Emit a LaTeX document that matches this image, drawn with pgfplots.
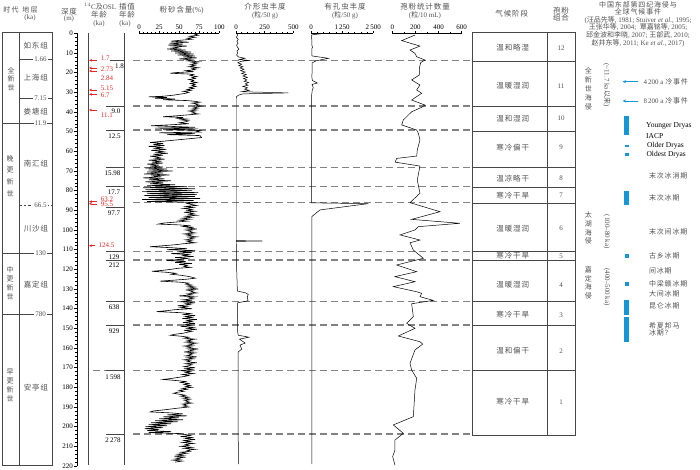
\documentclass[border=0pt]{standalone}
\usepackage{pgfplots}
\pgfplotsset{compat=1.18}
\usepackage{fontspec}
\setmainfont{Liberation Serif}
\newfontfamily\cjk[LetterSpace=12]{Noto Sans CJK SC}
\newfontfamily\cjkn{Noto Sans CJK SC}
\usetikzlibrary{arrows.meta}
\definecolor{ared}{RGB}{232,40,35}
\definecolor{ablue}{RGB}{20,150,215}
\definecolor{dgray}{RGB}{130,130,130}
\definecolor{bgray}{RGB}{70,70,70}
\definecolor{tgray}{RGB}{80,80,80}
\newcommand{\C}[1]{{\cjk #1}}
\newcommand{\fs}{\fontsize{7}{8.5}\selectfont}
\newcommand{\fss}{\fontsize{7.5}{9}\selectfont}
\pgfplotsset{
  colax/.style={scale only axis, height=432.7pt, ymin=0, ymax=220, y dir=reverse,
    hide y axis, axis x line*=top, tick align=outside, major tick length=2.5pt,
    minor tick length=1.3pt, tick style={black, line width=0.5pt},
    axis line style={black, line width=0.6pt},
    xticklabel style={font=\fs, inner sep=1pt},
    /pgf/number format/assume math mode=true, anchor=north west},
  curve/.style={black, line width=0.5pt, no markers, sharp plot},
}
\begin{document}
\begin{tikzpicture}
\begin{scope}[x=1pt, y=-1pt]
% headers
\node[font=\fs, text=tgray] at (11,10) {{\cjkn 时}\,{\cjkn 代}};
\node[font=\fs, text=tgray] at (30,10) {{\cjkn 地}\,{\cjkn 层}};
\node[font=\fs, text=tgray] at (30,18) {(ka)};
\node[font=\fss, text=tgray] at (69,11.7) {\C{深度}};
\node[font=\fs, text=tgray] at (69,18.5) {(m)};
\node[font=\fs, text=tgray] at (100,6.7) {$^{14}$C\C{及}OSL};
\node[font=\fss, text=tgray] at (99,15) {\C{年龄}};
\node[font=\fs, text=tgray] at (99,23.5) {(ka)};
\node[font=\fss, text=tgray] at (127,6.7) {\C{插值}};
\node[font=\fss, text=tgray] at (127,15) {\C{年龄}};
\node[font=\fs, text=tgray] at (125,23.5) {(ka)};
\node[font=\fss, text=tgray] at (181.7,10) {\C{粉砂含量}(\%)};
\node[font=\fss, text=tgray] at (265,7) {\C{介形虫丰度}};
\node[font=\fs, text=tgray] at (265,15.5) {(\C{粒}/50 g)};
\node[font=\fss, text=tgray] at (345,7) {\C{有孔虫丰度}};
\node[font=\fs, text=tgray] at (345,15.5) {(\C{粒}/50 g)};
\node[font=\fss, text=tgray] at (425,7) {\C{孢粉统计数量}};
\node[font=\fs, text=tgray] at (425,15.5) {(\C{粒}/10 mL)};
\node[font=\fss, text=tgray] at (511.7,14) {\C{气候阶段}};
\node[font=\fss, text=tgray] at (561,10.5) {\C{孢粉}};
\node[font=\fss, text=tgray] at (561,18) {\C{组合}};
\node[font=\fs, text=tgray] at (638,5) {\C{中国东部第四纪海侵与}};
\node[font=\fs, text=tgray] at (638,11.8) {\C{全球气候事件}};
\node[font=\fs, text=tgray] at (638,19.8) {({\cjkn 汪品先等}, 1981; Stuiver \textit{et al.}, 1995;};
\node[font=\fs, text=tgray] at (638,27.3) {{\cjkn 王张华等}, 2004;\ \ {\cjkn 覃嘉铭等}, 2005;};
\node[font=\fs, text=tgray] at (638,35) {{\cjkn 邱金波和李晓}, 2007; {\cjkn 王部武}, 2010;};
\node[font=\fs, text=tgray] at (638,42.8) {{\cjkn 赵井东等}, 2011; Ke \textit{et al.}, 2017)};
% left columns
\draw[bgray, line width=0.6pt] (2.7,32.3) -- (2.7,465) -- (52.7,465) -- (52.7,32.3);
\draw[bgray, line width=1.4pt] (2.7,32.3) -- (52.7,32.3);
\draw[bgray, line width=0.6pt] (19.3,32.3) -- (19.3,465);
\draw[bgray, line width=0.6pt] (2.7,123.3) -- (52.7,123.3);
\draw[bgray, line width=0.6pt] (2.7,253.3) -- (52.7,253.3);
\draw[bgray, line width=0.6pt] (2.7,314.3) -- (52.7,314.3);
\draw[bgray, line width=0.6pt] (19.3,59) -- (52.7,59);
\draw[bgray, line width=0.6pt] (19.3,98.3) -- (52.7,98.3);
\draw[bgray, line width=0.6pt, dash pattern=on 2.5pt off 2pt] (19.3,205.7) -- (52.7,205.7);
\foreach \yy/\lab in {59/1.66, 98.3/7.15, 123.3/11.9, 205.7/66.5, 253.3/130, 314.3/780}
  \node[font=\fs, fill=white, inner sep=1pt, text=tgray] at (40.5,\yy) {\lab};
\node[font=\fss, text=tgray] at (35.7,45.7) {\C{如东组}};
\node[font=\fss, text=tgray] at (35.7,77.3) {\C{上海组}};
\node[font=\fss, text=tgray] at (35.7,111.7) {\C{娄塘组}};
\node[font=\fss, text=tgray] at (36,164) {\C{南汇组}};
\node[font=\fss, text=tgray] at (36,229) {\C{川沙组}};
\node[font=\fss, text=tgray] at (36,285) {\C{嘉定组}};
\node[font=\fss, text=tgray] at (36,387.3) {\C{安亭组}};
\node[font=\fontsize{7}{8.6}\selectfont, text=tgray, align=center] at (11,78.9) {\cjkn 全\\\cjkn 新\\\cjkn 世};
\node[font=\fontsize{7}{11.7}\selectfont, text=tgray, align=center] at (10,175.8) {\cjkn 晚\\\cjkn 更\\\cjkn 新\\\cjkn 世};
\node[font=\fontsize{7}{9}\selectfont, text=tgray, align=center] at (10,283) {\cjkn 中\\\cjkn 更\\\cjkn 新\\\cjkn 世};
\node[font=\fontsize{7}{9}\selectfont, text=tgray, align=center] at (10,385.2) {\cjkn 早\\\cjkn 更\\\cjkn 新\\\cjkn 世};
% age columns
\draw[bgray, line width=0.7pt] (88.3,33.3) -- (88.3,465);
\draw[bgray, line width=0.7pt] (124,33.3) -- (124,465);
% red 14C / OSL ages
\foreach \ya/\yl/\lab in {60.3/58/1.7, 68/69.3/2.73, 71/78.3/2.84, 90/88.3/5.15, 94.3/95.3/6.7, 110/115.7/11.1, 201.7/198.8/63.2, 203.8/204.6/95.5}{
  \draw[ared, line width=0.55pt, -{Stealth[length=3pt, width=2.6pt]}] (97,\ya) -- (89,\ya);
  \node[font=\fs, text=ared, anchor=west] at (97.3,\yl) {\lab};
}
\draw[ared, line width=0.55pt, -{Stealth[length=3pt, width=2.6pt]}] (95,245.7) -- (89,245.7);
\node[font=\fs, text=ared, anchor=west] at (95,245.7) {124.5};
% interpolated ages
\draw[bgray, line width=0.9pt] (110,60.7) -- (124,60.7);
\foreach \yy in {106,130,167.3,186.7,207.5,251.7,260,301.7,325,370.5,434}
  \draw[bgray, line width=0.9pt] (106,\yy) -- (124,\yy);
\node[font=\fs] at (119.5,66) {1.8};
\foreach \xx/\yy/\lab in {116/111/9.0, 114.5/136.7/12.5, 112.5/173.3/15.98, 114/192/17.7, 114/213.3/97.7, 114/256.8/129, 114/265.3/212, 114/306.7/638, 114/331/929, 113/376.7/1\,598, 113/440/2\,278}
  \node[font=\fs] at (\xx,\yy) {\lab};
% dashed lines
\foreach \yy in {60.7,106,130,167.3,186.7,202.7,251.7,260,301.7,325,434}
  \draw[dgray, line width=1.1pt, dash pattern=on 7pt off 4pt] (133,\yy) -- (472.7,\yy);
\draw[dgray, line width=1.1pt, dash pattern=on 7pt off 4pt] (93,370.5) -- (106,370.5);
\draw[dgray, line width=1.1pt, dash pattern=on 7pt off 4pt] (133,370.5) -- (472.7,370.5);
% climate boxes
\draw[bgray, line width=0.7pt] (472.7,32.3) rectangle (575,435);
\draw[bgray, line width=0.7pt] (547.7,32.3) -- (547.7,435);
\foreach \yy in {61,106.7,131,167.3,187.3,203.3,251.7,260,301.7,325.7,370.7}
  \draw[bgray, line width=0.7pt] (472.7,\yy) -- (575,\yy);
\foreach \yy/\lab/\nn in {47.7/温和略湿/12, 86/温暖湿润/11, 118.3/温和湿润/10, 147.7/寒冷偏干/9, 178.3/温凉略干/8, 195.7/寒冷干旱/7, 228.3/温暖湿润/6, 256/寒冷干旱/5, 285/温暖湿润/4, 315/寒冷干旱/3, 350.7/温和偏干/2, 401.7/寒冷干旱/1}{
  \node[font=\fss, text=tgray] at (512.7,\yy) {\C{\lab}};
  \node[font=\fs, text=tgray] at (561,\yy) {\nn};
}
% right panel
\node[font=\fontsize{7}{9}\selectfont, text=tgray, align=center] at (588.3,89.2) {\cjkn 全\\\cjkn 新\\\cjkn 世\\\cjkn 海\\\cjkn 侵};
\node[font=\fs, text=tgray, rotate=-90] at (606.7,85) {(\textasciitilde 11.7 ka{\cjkn 以来})};
\node[font=\fontsize{7}{8.7}\selectfont, text=tgray, align=center] at (588.3,228.2) {\cjkn 太\\\cjkn 湖\\\cjkn 海\\\cjkn 侵};
\node[font=\fs, text=tgray, rotate=-90] at (606.7,231.7) {(100–80 ka)};
\node[font=\fontsize{7}{8.6}\selectfont, text=tgray, align=center] at (588.3,282.7) {\cjkn 嘉\\\cjkn 定\\\cjkn 海\\\cjkn 侵};
\node[font=\fs, text=tgray, rotate=-90] at (606.7,287) {(400–500 ka)};
\draw[ablue, line width=0.7pt, -{Stealth[length=3.5pt, width=3pt]}] (638.3,81.7) -- (622.5,81.7);
\draw[ablue, line width=0.7pt, -{Stealth[length=3.5pt, width=3pt]}] (638.3,101) -- (622.5,101);
\node[font=\fs, text=tgray, anchor=west] at (640,81.7) {4\,200 a {\cjk 冷事件}};
\node[font=\fs, text=tgray, anchor=west] at (640,101) {8\,200 a {\cjk 冷事件}};
\fill[ablue] (624.2,116) rectangle (629.3,135);
\fill[ablue] (624.7,145.2) rectangle (629.3,146.8);
\fill[ablue] (624.7,153) rectangle (629.3,156.2);
\fill[ablue] (624.2,190.7) rectangle (629.3,205);
\fill[ablue] (624.7,254.3) rectangle (629.3,257.7);
\fill[ablue] (624.7,282) rectangle (629.3,286);
\fill[ablue] (624.2,300) rectangle (629.3,315);
\fill[ablue] (624.2,316.5) rectangle (629.3,341.7);
\node[font=\fss, anchor=west] at (642.7,126) {Younger Dryas};
\node[font=\fss, anchor=west] at (642.7,136) {IACP};
\node[font=\fss, anchor=west] at (643.5,145.7) {Older Dryas};
\node[font=\fss, anchor=west] at (643,154.3) {Oldest Dryas};
\foreach \yy/\lab in {176/末次冰消期, 197.7/末次冰期, 231.7/末次间冰期, 256/古乡冰期, 270.7/间冰期, 284/中梁赣冰期, 294/大间冰期, 306/昆仑冰期, 325.7/希夏邦马}
  \node[font=\fs, text=tgray, anchor=west] at (645.5,\yy) {\C{\lab}};
\node[font=\fs, text=tgray, anchor=west] at (645.5,333.3) {\C{冰期？}};
\end{scope}
% ---------------- depth ruler ----------------
\begin{axis}[at={(77pt,-33.3pt)}, anchor=north west, scale only axis, width=10pt, height=432.7pt,
  xmin=0, xmax=1, ymin=0, ymax=220, y dir=reverse, hide x axis, axis y line*=left,
  ytick={0,10,...,220}, minor y tick num=4, tick align=outside, major tick length=3pt,
  minor tick length=1.6pt, tick style={black, line width=0.5pt}, axis line style={black, line width=0.7pt},
  yticklabel style={font=\fs, inner sep=1pt}, /pgf/number format/assume math mode=true]
\addplot[draw=none] coordinates {(0,0)};
\end{axis}
% ---------------- silt ----------------
\begin{axis}[colax, at={(139pt,-33.3pt)}, width=80.3pt, xmin=0, xmax=100,
  xtick={0,25,50,75,100}, minor x tick num=4]
\addplot[curve, line width=0.6pt] table[row sep=\\, x=v, y=d] {d v\\
0 75\\0.5 70\\1 74\\1.5 63\\2 70\\2.5 60\\3 66\\3.4 55\\4 40\\4.5 62\\5 38\\5.5 55\\6 36\\6.5 60\\7 42\\7.5 50\\8 35\\8.5 58\\9 40\\9.5 65\\10 45\\10.5 68\\11 48\\11.5 70\\12 55\\12.5 72\\13 50\\13.5 66\\14 60\\14.5 75\\
15 66\\15.5 72\\16 64\\16.5 70\\17 62\\17.5 74\\18 66\\18.5 70\\19 58\\19.5 68\\20 45\\20.3 39\\20.7 62\\21 68\\21.5 64\\22 72\\22.5 66\\23 70\\23.5 62\\24 68\\24.5 65\\25 72\\25.5 64\\26 70\\26.5 66\\27 71\\27.5 63\\28 68\\28.5 60\\29 65\\29.5 55\\30 62\\30.5 58\\31 50\\31.5 42\\
32 30\\32.3 12\\32.6 35\\33 20\\33.4 45\\33.8 30\\34.2 60\\34.6 70\\35 76\\35.5 66\\36 74\\36.5 70\\37 78\\37.5 68\\38 74\\38.5 66\\39 72\\39.5 62\\40 70\\40.5 66\\41 74\\41.5 60\\42 45\\42.4 30\\42.8 55\\43.2 48\\43.6 60\\44 52\\44.5 62\\45 58\\45.5 50\\46 62\\46.5 40\\47 15\\47.4 45\\47.8 70\\48.2 20\\48.6 74\\49 30\\49.4 76\\49.8 72\\50.2 76\\50.6 25\\51 70\\51.5 35\\52 76\\53 78\\55.5 14\\
56 30\\56.5 18\\57 32\\57.5 12\\58 28\\58.5 20\\59 34\\59.5 15\\60 30\\60.5 22\\61 36\\61.5 18\\62 30\\62.5 14\\63 26\\63.5 20\\64 32\\64.5 12\\65 28\\65.5 16\\66 30\\66.5 10\\67 25\\67.5 14\\
68 30\\68.5 8\\69 35\\69.5 12\\70 42\\70.5 10\\71 30\\71.5 6\\72 38\\72.5 15\\73 28\\73.5 5\\74 32\\74.5 12\\75 40\\75.5 8\\76 30\\76.5 14\\77 45\\77.5 10\\
78 60\\78.5 5\\79 70\\79.5 8\\80 66\\80.5 4\\81 74\\81.5 10\\82 72\\82.5 6\\83 70\\83.5 12\\84 76\\84.5 4\\85 68\\85.5 10\\86 74\\86.5 60\\
87 65\\87.5 72\\88 58\\88.5 68\\89 55\\89.5 66\\90 60\\90.5 70\\91 56\\91.5 68\\92 62\\92.5 72\\93 58\\93.5 66\\94 54\\94.5 64\\95 50\\95.5 60\\96 45\\96.5 30\\97 24\\97.4 50\\97.8 62\\98.2 55\\98.6 68\\99 60\\99.5 72\\100 58\\100.5 66\\101 62\\101.5 70\\102 56\\102.5 66\\103 60\\103.5 72\\104 62\\104.5 68\\105 58\\105.5 66\\106 60\\106.5 70\\107 55\\107.5 45\\
108 30\\108.5 14\\109 40\\109.5 60\\110 35\\110.5 70\\111 50\\111.5 66\\112 40\\112.5 62\\113 55\\113.5 68\\114 45\\114.5 60\\115 50\\
115.5 35\\116 58\\116.5 45\\117 66\\117.5 50\\118 60\\118.5 56\\119 64\\119.5 48\\120 40\\120.5 30\\121 16\\121.5 34\\122 46\\122.5 40\\123 52\\123.5 60\\124 66\\124.5 70\\125 60\\125.5 44\\126 26\\126.5 50\\127 62\\127.5 58\\128 66\\
128.5 60\\129 70\\129.5 62\\130 74\\130.5 58\\131 68\\131.5 64\\132 72\\132.5 60\\133 66\\133.5 50\\134 70\\134.5 62\\135 68\\
135.5 55\\136 66\\136.5 52\\137 70\\137.5 58\\138 64\\138.5 48\\139 60\\139.5 52\\140 66\\140.5 45\\141 35\\141.5 22\\142 50\\142.5 64\\143 56\\143.5 70\\144 58\\144.5 66\\145 54\\145.5 72\\146 60\\146.5 66\\147 55\\147.5 70\\148 58\\148.5 64\\149 52\\149.5 68\\150 60\\150.5 72\\151 56\\151.5 66\\152 60\\
152.5 55\\153 45\\153.5 39\\154 52\\154.5 62\\155 56\\155.5 70\\156 60\\156.5 66\\157 58\\157.5 72\\158 62\\158.5 68\\159 56\\159.5 66\\160 60\\160.5 74\\161 62\\161.5 68\\162 56\\162.5 70\\163 62\\163.5 66\\164 58\\164.5 72\\165 60\\165.5 68\\166 56\\166.5 64\\167 60\\167.5 72\\168 58\\168.5 66\\169 62\\
169.5 56\\170 70\\170.5 58\\171 66\\171.5 52\\172 64\\172.5 58\\173 68\\173.5 54\\174 62\\174.5 56\\175 48\\175.5 40\\176 30\\176.5 45\\177 58\\177.5 52\\178 62\\
178.5 56\\179 64\\179.5 58\\180 66\\180.5 54\\181 60\\181.5 50\\182 56\\182.5 48\\183 43\\183.5 50\\184 58\\184.5 52\\185 62\\185.5 55\\186 64\\186.5 56\\187 62\\187.5 58\\188 66\\188.5 54\\189 60\\189.5 55\\190 62\\190.5 50\\
191 40\\191.5 30\\192 18\\192.5 14\\193 40\\193.5 55\\194 35\\194.5 60\\195 30\\195.5 50\\196 25\\196.5 55\\197 20\\197.5 48\\198 15\\198.5 40\\199 12\\199.5 35\\200 8\\200.5 30\\201 7\\201.5 25\\202 10\\202.5 40\\203 12\\203.5 50\\
204 58\\204.5 64\\205 52\\205.5 66\\206 58\\206.5 70\\207 56\\207.5 64\\208 54\\208.5 68\\209 58\\209.5 62\\210 52\\210.5 66\\211 56\\211.5 70\\212 60\\212.5 64\\213 52\\213.5 60\\214 48\\214.5 56\\215 44\\215.5 58\\216 46\\216.5 52\\217 42\\217.5 54\\218 45\\
};
\end{axis}
% ---------------- ostracods ----------------
\begin{axis}[colax, at={(236pt,-33.3pt)}, width=57.3pt, xmin=0, xmax=500,
  xtick={0,250,500}, minor x tick num=4]
\addplot[curve] table[row sep=\\, x=v, y=d] {d v\\
0 5\\1 15\\2 3\\3 20\\4 8\\5 18\\6 5\\7 12\\8 25\\9 8\\10 15\\11 5\\12 20\\12.7 78\\13.3 30\\13.8 110\\14.3 40\\15 15\\15.7 50\\16.4 25\\17 60\\17.6 35\\18.3 70\\19 40\\19.7 80\\20.4 50\\21 90\\21.7 60\\22.4 100\\23 65\\23.7 95\\24.4 70\\25 110\\25.7 80\\26.4 105\\27 60\\27.7 100\\28.4 75\\29 115\\29.7 50\\30.3 456\\30.8 60\\31.5 20\\32.2 5\\33 2\\34 0\\
105.4 2\\105.6 230\\105.8 2\\115 3\\131 12\\132 85\\132.8 107\\134 98\\136 105\\137 15\\140 12\\152 15\\153.5 20\\154.5 113\\155.5 30\\157.5 80\\158.5 35\\160.5 50\\162 20\\163 18\\219 20\\
};
\end{axis}
% ---------------- foraminifera ----------------
\begin{axis}[colax, at={(311pt,-33.3pt)}, width=62.3pt, xmin=0, xmax=2500,
  xtick={0,1250,2500}, xticklabels={0,1\,250,2\,500}, minor x tick num=4]
\addplot[curve] table[row sep=\\, x=v, y=d] {d v\\
0 535\\0.8 30\\2 25\\4 35\\6 30\\7 60\\8 30\\10 35\\11.5 40\\12.7 695\\14 200\\15 50\\17 40\\20 45\\22 30\\24 55\\25.3 254\\26 40\\27.5 90\\29 50\\31 30\\34 25\\40 20\\86.2 20\\86.6 2300\\89.8 361\\93.2 30\\219 30\\
};
\end{axis}
% ---------------- pollen ----------------
\begin{axis}[colax, at={(392.3pt,-33.3pt)}, width=69.4pt, xmin=0, xmax=600,
  xtick={0,200,400,600}, minor x tick num=1]
\addplot[curve] table[row sep=\\, x=v, y=d] {d v\\
0.9 196\\3.7 81\\6.5 239\\8.5 153\\10.2 196\\11.9 211\\13.6 283\\14.9 245\\17.8 234\\21.2 234\\23.7 167\\26.3 239\\28.8 211\\30.5 254\\33.9 167\\36.5 283\\37.6 254\\39.9 167\\44.1 95\\46.6 81\\48.3 167\\49.2 211\\50.8 225\\54.2 239\\59.3 216\\62.4 211\\63.6 38\\65.5 25\\67.5 239\\74.6 216\\81.3 239\\86.1 153\\90.7 412\\94.6 167\\96.6 585\\98.3 225\\100 196\\102.5 67\\105.1 239\\106.5 153\\110.2 182\\114.4 268\\117.8 38\\121.2 211\\123.7 23\\126.3 196\\128.8 9\\131.4 211\\132.2 254\\133.9 239\\135.8 355\\137.5 167\\144.1 182\\147.4 124\\150 196\\153.9 52\\156.8 239\\158 263\\161 196\\167.8 153\\171.2 167\\175.4 211\\181.3 196\\194.9 182\\199.1 9\\203.4 95\\206.8 23\\211.9 23\\215.2 3\\219.5 23\\
};
\end{axis}
\pgfresetboundingbox
\path (0pt,0pt) rectangle (700pt,-469pt);
\end{tikzpicture}
\end{document}
